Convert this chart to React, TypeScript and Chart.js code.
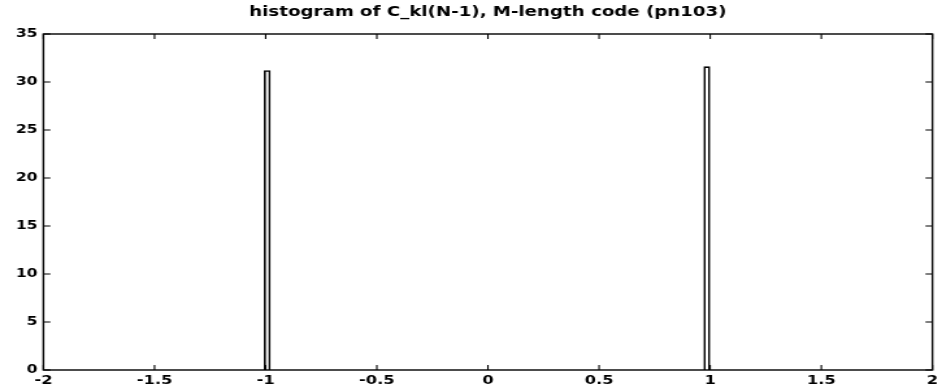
import React, { useEffect, useRef } from 'react';
import { Chart, registerables } from 'chart.js';

Chart.register(...registerables);

const chartTitle = 'histogram of C_kl(N-1), M-length code (pn103)';
const binCenters = [-0.993, 0.985];
const binCounts = [31.2, 31.6];
const xTickValues = [-2, -1.5, -1, -0.5, 0, 0.5, 1, 1.5, 2];
const yTickValues = [0, 5, 10, 15, 20, 25, 30, 35];

const FONT = 'DejaVu Sans';
// the reference's lettering is stretched horizontally; draw at a narrower width and stretch
const OUT_W = 942;
const OUT_H = 386;
const INNER_W = 725;
const STRETCH = OUT_W / INNER_W;

const boxTicksPlugin = {
  id: 'boxTicks',
  afterDraw(chart: any) {
    const { ctx, chartArea, scales } = chart;
    const { left, right, top, bottom } = chartArea;
    const x = scales.x;
    const y = scales.y;
    ctx.save();
    ctx.strokeStyle = '#000';
    ctx.lineWidth = 1.4;
    ctx.strokeRect(left, top, right - left, bottom - top);
    ctx.lineWidth = 1.1;
    ctx.beginPath();
    xTickValues.forEach((v) => {
      const px = x.getPixelForValue(v);
      ctx.moveTo(px, bottom);
      ctx.lineTo(px, bottom - 5);
      ctx.moveTo(px, top);
      ctx.lineTo(px, top + 5);
    });
    yTickValues.forEach((v) => {
      const py = y.getPixelForValue(v);
      ctx.moveTo(left, py);
      ctx.lineTo(left + 5.4, py);
      ctx.moveTo(right, py);
      ctx.lineTo(right - 5.4, py);
    });
    ctx.stroke();
    ctx.restore();
  },
};

export default function App() {
  const canvasRef = useRef<HTMLCanvasElement | null>(null);

  useEffect(() => {
    if (!canvasRef.current) return;
    const chart = new Chart(canvasRef.current, {
      type: 'bar',
      data: {
        datasets: [
          {
            data: binCenters.map((c, i) => ({ x: c, y: binCounts[i] })),
            backgroundColor: '#ffffff',
            borderColor: '#000000',
            borderWidth: 1.6,
            barThickness: 4.6,
          } as any,
        ],
      },
      options: {
        animation: false,
        responsive: true,
        maintainAspectRatio: false,
        layout: { padding: { left: 0, right: 3.8, top: 0, bottom: 0 } },
        plugins: {
          legend: { display: false },
          tooltip: { enabled: false },
          title: {
            display: true,
            fullSize: false,
            text: chartTitle,
            color: '#000',
            font: { family: FONT, size: 14, weight: 'bold' },
            padding: { top: 4, bottom: 13.2 },
          },
        },
        scales: {
          x: {
            type: 'linear',
            min: -2,
            max: 2,
            offset: false,
            grid: { display: false, drawTicks: false },
            border: { display: false },
            afterBuildTicks: (scale: any) => {
              scale.ticks = xTickValues.map((v) => ({ value: v }));
            },
            afterFit: (scale: any) => {
              scale.height = 16;
            },
            ticks: {
              color: '#000',
              padding: 3,
              maxRotation: 0,
              autoSkip: false,
              font: { family: FONT, size: 12.5, weight: 'bold' },
              callback: (v: any) => String(v),
            },
          },
          y: {
            type: 'linear',
            min: 0,
            max: 35,
            grid: { display: false, drawTicks: false },
            border: { display: false },
            afterBuildTicks: (scale: any) => {
              scale.ticks = yTickValues.map((v) => ({ value: v }));
            },
            afterFit: (scale: any) => {
              scale.width = 33.4;
            },
            ticks: {
              color: '#000',
              padding: 4.5,
              autoSkip: false,
              font: { family: FONT, size: 12, weight: 'bold' },
              callback: (v: any) => String(v),
            },
          },
        },
      },
      plugins: [boxTicksPlugin],
    });
    return () => chart.destroy();
  }, []);

  return (
    <div
      style={{
        position: 'absolute',
        left: 0,
        top: 0,
        width: OUT_W,
        height: OUT_H,
        overflow: 'hidden',
        background: '#fff',
      }}
    >
      <div
        style={{
          width: INNER_W,
          height: OUT_H,
          transform: `scaleX(${STRETCH})`,
          transformOrigin: '0 0',
        }}
      >
        <canvas ref={canvasRef} />
      </div>
    </div>
  );
}
